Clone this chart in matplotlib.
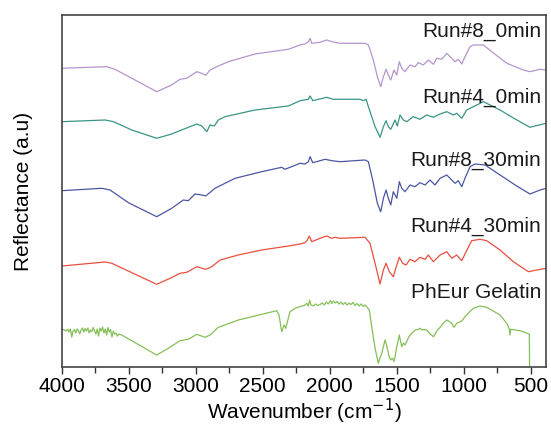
import matplotlib
matplotlib.use("Agg")
import matplotlib.pyplot as plt
from matplotlib.ticker import MultipleLocator

plt.rcParams["font.family"] = ["Liberation Sans", "DejaVu Sans"]

# ── spectra (wavenumber, stacked reflectance in a.u.) ─────────────────────────
run8_0_wn = [4000, 3664, 3602, 3291, 3179, 3117, 3067, 2992, 2955, 2925, 2893, 2831,
             2756, 2557, 2308, 2221, 2184, 2159, 2146, 2134, 2072, 2022, 1984, 1923,
             1736, 1711, 1674, 1644, 1619, 1599, 1579, 1562, 1544, 1520, 1499, 1480,
             1462, 1438, 1400, 1363, 1338, 1301, 1264, 1226, 1201, 1164, 1126, 1089,
             1064, 1040, 1014, 990, 952, 928, 853, 790, 678, 555, 505, 430, 385]
run8_0_r = [298.7, 300.3, 297.7, 275.3, 282, 287.7, 288.7, 295.3, 293.7, 291.7, 297, 301,
            305.3, 313, 317.7, 322, 323, 325.3, 328.7, 323.7, 324.7, 327, 325.3, 323.7,
            323.7, 322, 307, 290.3, 280.3, 290.3, 297.7, 292, 287, 297, 292, 305.3,
            298.7, 295.3, 302, 300.3, 304.3, 302, 307, 302.7, 308.7, 307.7, 313.7, 308.7,
            305.3, 307.7, 303, 310.3, 320.3, 322, 322, 315.3, 303.7, 297, 295.3, 297.7, 297]

run4_0_wn = [4000, 3676, 3614, 3477, 3291, 3179, 3092, 3029, 2992, 2955, 2917, 2893,
             2861, 2831, 2781, 2557, 2308, 2221, 2159, 2146, 2126, 2022, 1973, 1773,
             1749, 1728, 1711, 1686, 1661, 1624, 1599, 1579, 1562, 1544, 1512, 1495,
             1475, 1450, 1425, 1376, 1326, 1276, 1226, 1176, 1126, 1077, 1052, 1014,
             977, 928, 853, 803, 728, 629, 505, 385]
run4_0_r = [245.3, 247, 245.3, 237, 228.7, 233, 237.7, 241, 243, 241, 235.3, 242,
            241, 247, 250.3, 257, 261, 266.3, 267.7, 271, 266.3, 269.7, 267.7, 267.7,
            266.3, 267.7, 260.3, 250.3, 240.3, 229.7, 240.3, 246.3, 240.3, 237.7, 247, 241,
            252, 247, 245.3, 250.3, 247.7, 252, 249.7, 253, 255.3, 252, 253.7, 248.7,
            257, 260.3, 265.3, 262, 257, 249, 239.7, 243.7]

run8_30_wn = [4000, 3701, 3639, 3502, 3291, 3179, 3092, 3055, 3005, 2955, 2925, 2856,
              2706, 2507, 2358, 2333, 2221, 2184, 2159, 2146, 2126, 2034, 1984, 1923,
              1736, 1711, 1679, 1644, 1619, 1599, 1579, 1562, 1544, 1525, 1499, 1480,
              1462, 1438, 1400, 1363, 1326, 1288, 1251, 1214, 1176, 1126, 1089, 1064,
              1040, 1014, 990, 952, 915, 840, 728, 604, 505, 430, 385]
run8_30_r = [176.3, 178.7, 177, 164.3, 150.3, 158.7, 167, 166.3, 173, 172, 171, 178.7,
             188.7, 195.3, 199.7, 197.7, 203.7, 203, 205.3, 210.3, 204.3, 207.7, 206.3, 205.3,
             207, 205.3, 187, 163.7, 155.3, 168.7, 177, 168.7, 162, 175.3, 168.7, 185.3,
             178.7, 175.3, 182, 180.3, 184.3, 182, 187, 182, 188.7, 192, 187, 183.7,
             186.3, 180.3, 188.7, 200.3, 203, 202, 192, 181, 173, 177, 178.7]

run4_30_wn = [4000, 3676, 3626, 3291, 3191, 3117, 3067, 2992, 2925, 2880, 2818, 2682,
              2507, 2308, 2221, 2184, 2167, 2152, 2134, 2072, 2022, 1984, 1960, 1923,
              1736, 1699, 1661, 1624, 1599, 1579, 1555, 1525, 1499, 1480, 1455, 1430,
              1400, 1363, 1326, 1288, 1264, 1226, 1176, 1126, 1089, 1052, 1014, 982,
              940, 878, 828, 728, 629, 517, 455, 385]
run4_30_r = [101, 105, 103.7, 82.7, 88.7, 93.7, 94.7, 100.3, 97.7, 100.3, 107, 112,
             117, 121, 123, 124.3, 127, 131, 125.3, 128.7, 131, 128.7, 129.7, 128.7,
             129.7, 123.7, 103.7, 83, 97, 103.7, 95.3, 90.3, 102, 109.7, 103.7, 102,
             107.7, 105.3, 109.7, 107.7, 112, 105.3, 112, 115.3, 108.7, 112, 106.3, 115.3,
             126.3, 127.7, 126.3, 117, 105.3, 95.3, 97, 98.7]

gelatin_wn = [4000, 3985, 3970, 3955, 3945, 3935, 3925, 3915, 3905, 3895, 3885, 3875,
              3865, 3855, 3845, 3835, 3825, 3815, 3805, 3795, 3785, 3775, 3765, 3755,
              3745, 3735, 3725, 3715, 3705, 3695, 3685, 3675, 3665, 3655, 3645, 3635,
              3625, 3615, 3605, 3595, 3585, 3575, 3552, 3291, 3204, 3117, 3055, 2992,
              2930, 2893, 2831, 2682, 2507, 2395, 2378, 2358, 2340, 2328, 2296, 2258,
              2221, 2190, 2171, 2160, 2150, 2140, 2122, 2105, 2090, 2072, 2055, 2040,
              2025, 2010, 1995, 1985, 1973, 1960, 1945, 1930, 1915, 1900, 1885, 1870,
              1855, 1840, 1825, 1810, 1795, 1780, 1765, 1750, 1735, 1723, 1712, 1704,
              1686, 1661, 1637, 1628, 1611, 1600, 1587, 1575, 1570, 1555, 1544, 1532,
              1520, 1510, 1499, 1490, 1480, 1470, 1462, 1450, 1438, 1425, 1410, 1400,
              1385, 1376, 1360, 1340, 1326, 1310, 1301, 1276, 1250, 1226, 1200, 1176,
              1150, 1126, 1100, 1089, 1072, 1052, 1014, 990, 950, 928, 878, 828,
              728, 678, 659, 654, 649, 579, 510, 508, 507]
gelatin_r = [37, 37.5, 36, 37.8, 35, 38, 30, 36, 37.5, 34, 38, 36.5,
             33, 37, 39, 35, 38.5, 36, 39, 34, 37, 35.5, 39.5, 36,
             33, 38, 31, 39, 36, 40, 34, 38, 32, 39.5, 35, 37.5,
             30, 36, 33, 34, 31, 33, 32, 12, 18.7, 26.3, 27.7, 32.7,
             29.7, 32, 39.7, 47, 52.7, 56.3, 52, 35.3, 42, 38.7, 55.3, 58.7,
             60.5, 61.5, 63.7, 61, 67, 62, 61, 63, 61.5, 62.5, 64, 62,
             65, 63, 66.5, 63.5, 66, 64, 65.5, 63, 65, 62.5, 64.5, 62,
             64, 62.5, 64.5, 61.5, 63.5, 61, 63, 60.5, 62, 60, 58, 57,
             40.3, 18.7, 3.7, 8, 13.7, 20, 27, 22, 18.7, 10, 7, 9,
             5.3, 12, 20.3, 26, 32, 25, 20.3, 24, 22, 25.3, 30, 32,
             34, 35.3, 37, 37.5, 38.7, 37, 37.5, 37, 33, 30.3, 36, 39.7,
             44, 47, 45, 43.7, 39.7, 43.7, 46, 50.3, 56, 58.7, 61, 59.7,
             52, 43.7, 37.7, 32, 37.7, 36.3, 33, 0, -10]

series = [
    ("Run#8_0min",    run8_0_wn,   run8_0_r,   "#b596cc", 330),
    ("Run#4_0min",    run4_0_wn,   run4_0_r,   "#3a9488", 264),
    ("Run#8_30min",   run8_30_wn,  run8_30_r,  "#4b56a3", 201),
    ("Run#4_30min",   run4_30_wn,  run4_30_r,  "#e8503f", 135),
    ("PhEur Gelatin", gelatin_wn,  gelatin_r,  "#84c058", 69),
]

fig = plt.figure(figsize=(5.51, 4.28), dpi=100)
ax = fig.add_axes([0.112, 0.1425, 0.879, 0.8225])

for name, wn, r, col, label_y in series:
    ax.plot(wn, r, color=col, lw=0.9)
    ax.text(422, label_y, name, ha="right", va="baseline", fontsize=15, color="#1a1a1a")

ax.set_xlim(4000, 385)
ax.set_ylim(0, 352)
ax.set_yticks([])
ax.xaxis.set_major_locator(MultipleLocator(500))
ax.xaxis.set_minor_locator(MultipleLocator(250))
ax.tick_params(axis="x", which="major", direction="out", length=5, width=1,
               labelsize=15, pad=2, color="#333")
ax.tick_params(axis="x", which="minor", direction="out", length=4, width=1, color="#333")
ax.tick_params(axis="y", left=False, right=False)
for sp in ax.spines.values():
    sp.set_color("#444")
    sp.set_linewidth(1.2)

ax.set_xlabel("Wavenumber (cm$^{-1}$)", fontsize=15, labelpad=1)
ax.set_ylabel("Reflectance (a.u)", fontsize=15, labelpad=21)

fig.savefig("out.png", dpi=100)
